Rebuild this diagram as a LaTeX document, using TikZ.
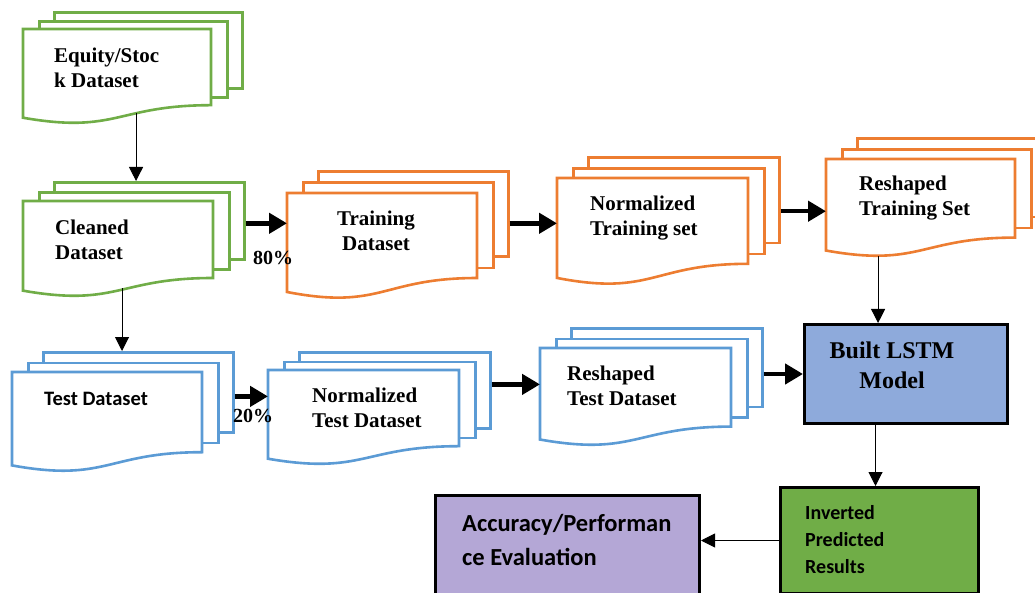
\documentclass[tikz,border=0pt]{standalone}
\usepackage{fontspec}
\setmainfont{Liberation Serif}
\newfontfamily\carlito{Carlito}
\usetikzlibrary{arrows.meta,calc}
\definecolor{dgreen}{HTML}{70AD47}
\definecolor{dorange}{HTML}{ED7D31}
\definecolor{dblue}{HTML}{5B9BD5}
\definecolor{lstmfill}{HTML}{8EAADB}
\definecolor{accfill}{HTML}{B4A7D6}
\definecolor{invfill}{HTML}{70AD47}
\tikzset{
  sheet/.style={rectangle, fill=white, line width=2.6pt, inner sep=0pt},
  sheetline/.style={fill=white, line width=2.6pt, line join=miter},
  sertext/.style={inner sep=0pt, align=left, font=\fontsize{21}{24.5}\selectfont\bfseries},
  sanstext/.style={inner sep=0pt, align=left, font=\carlito\bfseries},
  blackbox/.style={rectangle, draw=black, line width=3pt, inner sep=0pt},
  thickarrow/.style={line width=4.5pt, -{Triangle[width=20pt,length=18pt]}},
  thinarrow/.style={line width=1pt, -{Triangle[width=14pt,length=14pt]}},
}
% name, left, top, width, height, colour, layer offset
\newcommand\mdoc[7]{%
  \node[sheet, draw=#6, minimum width=#4, minimum height=0.802*#5, anchor=north west] (#1-b) at (#2+30, #3-2*#7) {};
  \node[sheet, draw=#6, minimum width=#4, minimum height=0.802*#5, anchor=north west] (#1-m) at (#2+15, #3-#7) {};
  \draw[sheetline, draw=#6] (#2,#3) -- (#2+#4,#3) -- (#2+#4,#3+0.802*#5)
     .. controls (#2+0.5*#4,#3+0.802*#5) and (#2+0.5*#4,#3+1.107*#5) .. (#2,#3+0.934*#5) -- cycle;
  \node[inner sep=0pt, minimum width=#4, minimum height=#5, anchor=north west] (#1-f) at (#2,#3) {};
}
\begin{document}
\begin{tikzpicture}[x=1pt,y=-1pt]
\useasboundingbox (0,0) rectangle (1035,593);
\clip (0,0) rectangle (1035,593);
\fill[white] (0,0) rectangle (1035,593);

% multi-document groups
\mdoc{eq}{23}{29}{188}{95}{dgreen}{9}
\mdoc{cl}{23}{201}{190}{96}{dgreen}{10}
\mdoc{tr}{287}{193}{190}{106}{dorange}{11.5}
\mdoc{nt}{557}{178}{191}{107}{dorange}{11}
\mdoc{rs}{826}{159}{189}{98}{dorange}{11}
\mdoc{te}{12}{372}{190}{100}{dblue}{10.5}
\mdoc{nte}{268}{370}{191}{95}{dblue}{9.5}
\mdoc{rte}{540}{348}{191}{98}{dblue}{10.5}

% boxes
\node[blackbox, fill=lstmfill, minimum width=203, minimum height=99, anchor=north west] (lstm) at (803,323) {};
\node[blackbox, fill=invfill, minimum width=198, minimum height=106, anchor=north west] (inv) at (779,486) {};
\node[blackbox, fill=accfill, minimum width=264, minimum height=110, anchor=north west] (acc) at (434,494) {};

% texts
\node[sertext, anchor=west] (eqt) at (54,68) {Equity/Stoc\\k Dataset};
\node[sertext, anchor=west] (clt) at (55,240) {Cleaned\\Dataset};
\node[sertext, align=center] (trt) at (376,231) {Training\\Dataset};
\node[sertext, anchor=west] (ntt) at (590,218) {Normalized\\Training set};
\node[sertext, anchor=west] (rst) at (859,198) {Reshaped\\Training Set};
\node[sanstext, anchor=west, font=\carlito\bfseries\fontsize{20.5}{24}\selectfont] (tet) at (44,399) {Test Dataset};
\node[sertext, anchor=west] (ntet) at (312,408) {Normalized\\Test Dataset};
\node[sertext, anchor=west] (rtet) at (567,386) {Reshaped\\Test Dataset};
\node[inner sep=0pt, align=center, font=\fontsize{24}{30}\selectfont\bfseries] (lstmt) at (892,365) {Built LSTM\\Model};
\node[sanstext, anchor=west, font=\carlito\bfseries\fontsize{20}{27}\selectfont] (invt) at (805,540) {Inverted\\Predicted\\Results};
\node[sanstext, anchor=west, font=\carlito\bfseries\fontsize{24.5}{34}\selectfont] (acct) at (462,540) {Accuracy/Performan\\ce Evaluation};

% connectors
\coordinate (c1) at ($(eq-f.south west)!0.6!(eq-f.south east)+(0,-11)$);
\draw[thinarrow] (c1) -- (c1 |- cl-b.north);
\coordinate (c2) at ($(cl-f.south west)!0.52!(cl-f.south east)+(0,-9)$);
\draw[thinarrow] (c2) -- (c2 |- te-b.north);
\draw[thickarrow] ([yshift=-2.5pt]cl-b.east) -- ([yshift=-2.5pt]cl-b.east -| tr-f.west);
\draw[thickarrow] ([yshift=-9.5pt]tr-b.east) -- ([yshift=-9.5pt]tr-b.east -| nt-f.west);
\draw[thickarrow] ([yshift=-11pt]nt-b.east) -- ([yshift=-11pt]nt-b.east -| rs-f.west);
\coordinate (c6) at ($(rs-f.south west)!0.275!(rs-f.south east)+(0,-1)$);
\draw[thinarrow] (c6) -- (c6 |- lstm.north);
\draw[thickarrow] ([yshift=-4pt]te-b.east) -- ([yshift=-4pt]te-b.east -| nte-f.west);
\draw[thickarrow] ([yshift=6pt]nte-b.east) -- ([yshift=6pt]nte-b.east -| rte-f.west);
\draw[thickarrow] (rte-b.east |- lstm.west) -- (lstm.west);
\coordinate (c10) at ($(inv.north)+(-4,0)$);
\draw[thinarrow] (c10 |- lstm.south) -- (c10);
\draw[thinarrow] (inv.west) -- (inv.west -| acc.east);

% percentage labels
\node[inner sep=0pt, font=\fontsize{20}{24}\selectfont\bfseries] (p80) at (273,258) {80\%};
\node[inner sep=0pt, font=\fontsize{20}{24}\selectfont\bfseries] (p20) at (253,416) {20\%};
\end{tikzpicture}
\end{document}
